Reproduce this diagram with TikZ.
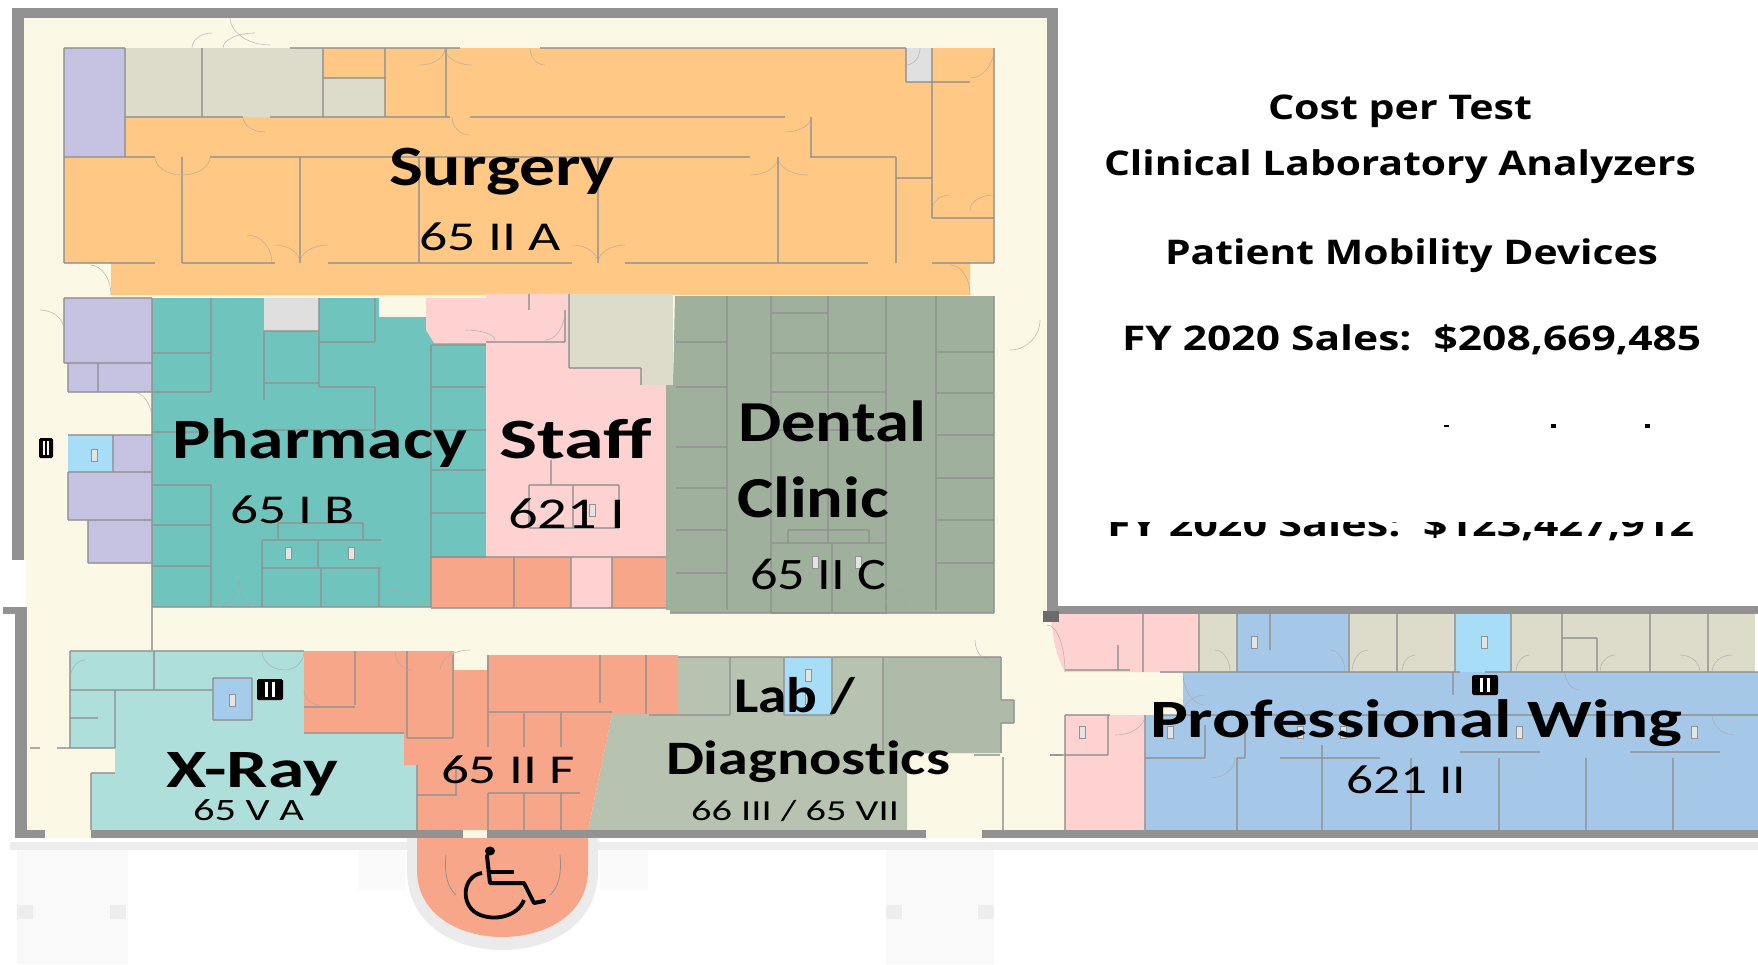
\documentclass[tikz,border=0pt]{standalone}
\usepackage{graphicx}
\usepackage{fontspec}
\setmainfont{Carlito}
\newfontfamily\headfont{Open Sans}
\definecolor{wallc}{HTML}{929292}
\definecolor{creamc}{HTML}{FBF8E6}
\definecolor{surgc}{HTML}{FFC985}
\definecolor{tealc}{HTML}{6FC5BE}
\definecolor{pinkc}{HTML}{FFD2D2}
\definecolor{dentc}{HTML}{9FB19D}
\definecolor{salmc}{HTML}{F7A68A}
\definecolor{xrayc}{HTML}{AFDFDA}
\definecolor{labc}{HTML}{B7C3B0}
\definecolor{labdc}{HTML}{AEBBA8}
\definecolor{bluec}{HTML}{A5C8E8}
\definecolor{skyc}{HTML}{A8DDF8}
\definecolor{beigec}{HTML}{DDDBC9}
\definecolor{purpc}{HTML}{C6C2E2}
\tikzset{
  thickwall/.style={fill=wallc,draw=none},
  partition/.style={draw=wallc,line width=1.3pt,opacity=.75},
  doorarc/.style={draw=black!35,line width=.6pt,opacity=.7},
  roomfill/.style={draw=none},
}
\newcommand{\lbl}[6]{% name, x1, x2, baseline, size, text
  \node[anchor=base west,inner sep=0pt,outer sep=0pt] (#1) at (#2,#4)
    {\resizebox{\dimexpr #3pt-#2pt\relax}{\height}{\fontsize{#5}{#5}\selectfont #6}};}
\newcommand{\door}[4]{\draw[doorarc] (#1,#2) .. controls (#1,{#2+0.55*(#4-#2)}) and ({#3-0.55*(#3-#1)},#4) .. (#3,#4);}
\newcommand{\lift}[4]{\fill[black,rounded corners=1.5pt] (#1,#2) rectangle (#3,#4);
  \fill[white] ({#1+0.3*(#3-#1)},{#2+3}) rectangle ({#1+0.42*(#3-#1)},{#4-3});
  \fill[white] ({#1+0.58*(#3-#1)},{#2+3}) rectangle ({#1+0.7*(#3-#1)},{#4-3});}
\newcommand{\cab}[2]{\draw[wallc,line width=.8pt,fill=wallc!25] ({#1-3},{#2-6}) rectangle ({#1+3},{#2+6});}
\begin{document}
\begin{tikzpicture}[x=1pt,y=-1pt]
\useasboundingbox (0,0) rectangle (1758,964);
\fill[white] (0,0) rectangle (1758,964);
% ground
\fill[black!2.5] (17,850) rectangle (128,964);
\fill[black!2.5] (886,850) rectangle (994,964);
\fill[black!2] (358,850) rectangle (405,890);
\fill[black!2] (600,850) rectangle (648,890);
\foreach \x in {17,110,886,978}{\fill[black!7] (\x,905) rectangle ({\x+16},919);}
\fill[black!7] (10,842) rectangle (1758,850);
% cream floor
\fill[creamc] (24,17) -- (1047,17) -- (1047,611) -- (1065,611) -- (1065,838) -- (26,838) -- (26,560) -- (24,560) -- cycle;
\fill[creamc] (1047,672) rectangle (1183,715);
% surgery
\fill[surgc] (64,157) -- (125,157) -- (125,117) -- (385,117) -- (385,78) -- (323,78) -- (323,48) -- (994,48) -- (994,263) -- (970,263) -- (970,295) -- (111,295) -- (111,263) -- (64,263) -- cycle;
\fill[purpc] (64,48) rectangle (125,157);
\fill[beigec] (125,48) rectangle (323,117);
\fill[beigec] (323,78) rectangle (385,117);
\fill[black!12] (906,48) rectangle (932,82);
% middle block
\fill[tealc] (152,298) rectangle (486,607);
\fill[purpc] (64,298) rectangle (152,363);
\fill[purpc] (68,363) rectangle (152,392);
\fill[purpc] (68,435) rectangle (152,520);
\fill[purpc] (88,520) rectangle (152,563);
\fill[skyc] (68,435) rectangle (113,472);
\fill[black!13] (264,298) rectangle (319,331);
\fill[creamc] (379,298) rectangle (426,317);
\fill[pinkc] (426,298) -- (486,298) -- (486,343) -- (434,343) -- (426,330) -- cycle;
\fill[pinkc] (486,294) rectangle (666,557);
\fill[beigec] (569,294) rectangle (673,368);
\fill[beigec] (641,368) rectangle (673,385);
\fill[salmc] (431,557) rectangle (666,608);
\fill[pinkc] (571,557) rectangle (612,608);
\fill[dentc] (675,296) -- (994,296) -- (994,613) -- (670,613) -- (670,610) -- (666,610) -- (666,385) -- (673,385) -- cycle;
% lower block
\fill[xrayc] (70,651) -- (304,651) -- (304,733) -- (404,733) -- (404,765) -- (417,765) -- (417,830) -- (91,830) -- (91,773) -- (115,773) -- (115,748) -- (70,748) -- cycle;
\fill[bluec!80!skyc] (213,678) rectangle (252,720);
\fill[labc] (678,657) -- (1001,657) -- (1001,753) -- (907,753) -- (907,830) -- (588,830) -- (612,714) -- (649,714) -- (678,714) -- cycle;
\fill[labdc] (884,657) -- (1001,657) -- (1001,700) -- (1014,700) -- (1014,723) -- (1001,723) -- (1001,753) -- (884,753) -- cycle;
\fill[skyc] (784,658) rectangle (832,715);
\fill[salmc] (304,651) -- (454,651) -- (454,670) -- (487,670) -- (487,655) -- (678,655) -- (678,714) -- (612,714) -- (588,830) -- (417,830) -- (417,765) -- (404,765) -- (404,733) -- (304,733) -- cycle;
% ramp
\fill[black!8] (407,838) -- (407,870) .. controls (407,925) and (455,950) .. (502,950) .. controls (550,950) and (598,925) .. (598,870) -- (598,838) -- cycle;
\fill[salmc] (417,838) -- (417,870) .. controls (417,915) and (460,937) .. (502,937) .. controls (545,937) and (588,915) .. (588,870) -- (588,838) -- cycle;
\draw[wallc,line width=.8pt] (446,855) .. controls (444,875) and (448,888) .. (456,895);
\draw[wallc,line width=.8pt] (560,855) .. controls (562,875) and (558,888) .. (550,895);
% wing
\fill[pinkc] (1051,614) -- (1199,614) -- (1199,672) -- (1065,672) .. controls (1058,660) and (1052,640) .. (1051,614) -- cycle;
\fill[beigec] (1199,614) rectangle (1237,672);
\fill[bluec] (1237,614) rectangle (1349,672);
\fill[beigec] (1349,614) rectangle (1455,672);
\fill[skyc] (1455,614) rectangle (1511,672);
\fill[beigec] (1511,614) rectangle (1755,672);
\fill[bluec] (1183,672) -- (1758,672) -- (1758,830) -- (1145,830) -- (1145,715) -- (1183,715) -- cycle;
\fill[pinkc] (1065,715) rectangle (1145,830);
% partitions (x1/y1/x2/y2)
\foreach \a/\b/\c/\d in {
 64/48/64/263, 994/48/994/263, 64/48/125/48, 290/48/460/48, 540/48/906/48, 125/48/125/157,
 125/117/243/117, 270/117/450/117, 470/117/785/117, 811/117/811/157, 64/157/155/157, 210/157/750/157, 810/157/896/157,
 896/157/896/263, 896/178/932/178, 932/48/932/218, 932/218/994/218, 906/48/906/82, 906/82/970/82,
 202/48/202/117, 323/48/323/117, 385/48/385/117, 323/78/385/78, 446/48/446/117,
 182/157/182/263, 300/157/300/263, 419/157/419/263, 598/157/598/263, 778/157/778/263,
 64/263/155/263, 182/263/275/263, 328/263/572/263, 625/263/868/263, 932/263/994/263,
 % purple
 64/298/152/298, 64/298/64/363, 64/363/152/363, 68/363/68/392, 98/363/98/392, 68/392/152/392,
 68/435/152/435, 68/472/152/472, 113/435/113/472, 68/472/68/520, 68/520/152/520, 88/520/88/563, 88/563/152/563, 152/298/152/650,
 % pharmacy
 152/353/211/353, 152/392/211/392, 152/432/211/432, 152/485/211/485, 152/525/211/525, 152/566/211/566, 152/607/431/607,
 211/298/211/392, 211/485/211/607, 264/331/264/400, 319/298/319/387, 319/342/375/342, 319/387/375/387, 375/298/375/342, 375/387/375/430,
 264/331/319/331, 264/383/319/383, 264/430/375/430,
 431/345/486/345, 431/387/486/387, 431/430/486/430, 431/470/486/470, 431/513/486/513, 431/345/431/607, 431/557/486/557,
 262/540/381/540, 262/568/381/568, 278/523/363/523, 278/523/278/540, 363/523/363/540, 318/540/318/568, 262/540/262/607, 321/568/321/607, 379/568/379/607,
 % staff
 486/342/565/342, 565/342/565/310, 529/294/529/310, 569/294/569/368, 569/368/641/368, 641/368/641/385,
 551/460/551/485, 529/485/619/485, 529/485/529/528, 619/485/619/528, 573/485/573/528, 529/528/619/528,
 % salmon
 431/557/666/557, 431/608/666/608, 514/557/514/608, 571/557/571/608, 612/557/612/608,
 % dental
 727/296/727/610, 771/296/771/543, 828/296/828/543, 886/296/886/613, 936/296/936/610, 994/296/994/613,
 676/342/727/342, 676/387/727/387, 676/447/727/447, 676/488/727/488, 676/530/727/530, 676/573/727/573,
 936/352/994/352, 936/393/994/393, 936/435/994/435, 936/478/994/478, 936/520/994/520, 936/563/994/563,
 771/313/828/313, 771/353/886/353, 771/392/886/392, 771/430/886/430,
 788/530/869/530, 788/530/788/543, 869/530/869/543, 771/543/887/543, 771/543/771/613, 832/543/832/613, 771/613/887/613, 670/613/994/613,
 % x-ray
 70/651/304/651, 70/651/70/748, 154/651/154/690, 70/690/213/690, 115/690/115/748, 70/718/98/718, 70/748/115/748, 91/773/115/773, 91/773/91/830,
 213/678/213/720, 213/678/252/678, 252/678/252/720, 213/720/252/720,
 % salmon lower
 355/651/355/705, 407/651/407/738, 453/655/453/738, 304/707/355/707, 304/733/404/733, 407/738/453/738, 488/655/488/747, 488/712/612/712,
 524/713/524/747, 561/713/561/747, 488/793/580/793, 488/793/488/830, 524/793/524/830, 561/793/561/830, 600/655/600/703, 646/655/646/714,
 417/795/457/795, 456/765/456/795, 417/765/417/830,
 % lab
 730/657/730/715, 784/658/784/715, 832/658/832/715, 883/657/883/750, 649/715/730/715, 784/715/832/715, 678/657/1001/657, 1001/657/1001/700, 1001/700/1014/700, 1014/700/1014/723, 1001/723/1014/723, 1001/723/1001/753, 974/755/1000/755, 1050/755/1062/755, 1003/757/1003/830,
 30/748/40/748, 57/748/70/748,
 % wing top
 1143/614/1143/672, 1199/614/1199/672, 1237/614/1237/672, 1270/614/1270/650, 1349/614/1349/672, 1397/614/1397/672, 1455/614/1455/672, 1511/614/1511/672, 1562/614/1562/672, 1650/614/1650/672, 1708/614/1708/672,
 1562/638/1597/638, 1597/638/1597/672, 1065/670/1130/670, 1118/645/1118/670, 1160/672/1460/672, 1485/672/1758/672,
 % wing bottom
 1065/715/1110/715, 1065/715/1065/830, 1145/715/1145/830, 1050/755/1108/755, 1108/755/1108/715, 1160/715/1758/715,
 1237/758/1237/830, 1322/758/1322/830, 1411/758/1411/830, 1499/758/1499/830, 1586/758/1586/830, 1673/758/1673/830,
 1145/758/1205/758, 1237/758/1245/758, 1205/758/1205/725, 1245/758/1245/725, 1280/758/1380/758, 1322/758/1322/745, 1460/752/1540/752, 1630/752/1720/752,
 1453/672/1453/695
 }{\draw[partition] (\a,\b) -- (\c,\d);}
% door swings
\door{155}{157}{182}{175} \door{210}{157}{182}{175}
\door{272}{263}{247}{235} \door{300}{263}{275}{245} \door{300}{263}{328}{245}
\door{598}{263}{572}{245} \door{598}{263}{625}{245} \door{778}{157}{750}{175} \door{778}{157}{808}{175}
\door{243}{117}{265}{132} \door{452}{117}{470}{135} \door{811}{117}{785}{132}
\door{445}{48}{420}{65} \door{445}{48}{472}{65} \door{530}{48}{545}{65}
\door{192}{48}{212}{33} \door{223}{48}{255}{33} \door{230}{17}{270}{45}
\door{920}{48}{906}{65} \door{994}{48}{970}{78} \door{932}{210}{950}{195} \door{970}{210}{994}{195}
\door{111}{295}{90}{265} \door{970}{295}{950}{265}
\door{64}{330}{40}{310} \door{152}{420}{133}{392} \door{1040}{320}{1010}{350}
\door{495}{340}{465}{330} \door{565}{310}{545}{340} \door{885}{607}{905}{590} \door{905}{607}{925}{590}
\door{239}{580}{215}{607} \door{239}{580}{255}{607} \door{425}{607}{385}{590}
\door{70}{680}{85}{660} \door{262}{651}{285}{670} \door{304}{651}{285}{670}
\door{304}{690}{320}{705} \door{395}{651}{412}{670} \door{440}{670}{470}{650}
\door{975}{640}{990}{660} \door{1065}{672}{1047}{625}
\door{1183}{672}{1205}{705} \door{1183}{715}{1205}{695} \door{1145}{715}{1115}{735}
\door{1230}{672}{1215}{650} \door{1345}{672}{1330}{650} \door{1352}{672}{1368}{650}
\door{1402}{672}{1415}{655} \door{1516}{672}{1530}{655} \door{1600}{672}{1615}{655}
\door{1700}{672}{1680}{655} \door{1712}{672}{1732}{655}
\door{1565}{672}{1580}{690}
\door{1235}{758}{1210}{778} \door{1712}{715}{1735}{735}
% small elevator cabinets
\foreach \x/\y in {94/455, 288/553, 351/553, 232/700, 808/675, 808/698, 1254/642, 1484/642, 1082/732, 1170/732, 1300/732, 1343/732, 1519/732, 1694/732, 858/562, 815/562, 592/510}{\cab{\x}{\y}}
% thick walls
\fill[thickwall] (12,8) rectangle (1058,17.5);
\fill[thickwall] (12,8) rectangle (24,560);
\fill[thickwall] (1047,8) rectangle (1058,615);
\fill[thickwall] (3,607) rectangle (27,614);
\fill[thickwall] (15,607) rectangle (27,838);
\fill[thickwall] (15,830) rectangle (45,838);
\fill[thickwall] (91,830) rectangle (463,838);
\fill[thickwall] (487,830) rectangle (926,838);
\fill[thickwall] (982,830) rectangle (1758,838);
\fill[thickwall] (1058,606) rectangle (1758,614);
\fill[black!58] (1043,611) rectangle (1059,622);
% lifts
\lift{39}{438}{53}{458}
\lift{257}{679}{283}{700}
\lift{1472}{675}{1498}{695}
% wheelchair
\fill[black] (490,851) ellipse [x radius=5, y radius=4.5];
\draw[black,line width=4pt,line join=round,line cap=round] (487,856) -- (490,883) -- (524,883) -- (534,903) -- (544,901);
\draw[black,line width=3.6pt] (490,872) -- (514,872);
\draw[black,line width=3.8pt] (482,873) .. controls (462,876) and (460,905) .. (478,914) .. controls (495,922) and (518,916) .. (524,900);
% labels
\lbl{surgery}{389}{615}{185}{57}{\bfseries Surgery}
\lbl{surgnum}{419}{561}{250}{41}{65 II A}
\lbl{pharm}{172}{467}{458}{57}{\bfseries Pharmacy}
\lbl{pharmnum}{230}{355}{523}{41}{65 I B}
\lbl{staff}{499}{652}{458}{57}{\bfseries Staff}
\lbl{staffnum}{508}{625}{528}{44}{621 I}
\lbl{dental}{738}{926}{441}{58}{\bfseries Dental}
\lbl{clinic}{737}{889}{517}{58}{\bfseries Clinic}
\lbl{dentnum}{750}{886}{589}{45}{65 II C}
\lbl{xray}{166}{338}{787}{54}{\raisebox{0pt}[\height][0pt]{\bfseries X-Ray}}
\lbl{xraynum}{193}{304}{820}{31}{65 V A}
\lbl{orangenum}{441}{575}{783}{41}{65 II F}
\lbl{lab}{734}{855}{712}{50}{\bfseries Lab /}
\lbl{diag}{666}{950}{774}{48}{\bfseries Diagnost\kern0pt ics}
\lbl{labnum}{691}{899}{820}{29}{66 III / 65 VII}
\lbl{prof}{1150}{1682}{737}{54}{\bfseries Professional Wing}
\lbl{profnum}{1346}{1466}{793}{41}{621 II}
% right heading
\lbl{h1}{1268}{1532}{119}{34}{\headfont\bfseries Cost per Test}
\lbl{h2}{1104}{1696}{175}{34}{\headfont\bfseries Clinical Laboratory Analyzers}
\lbl{h3}{1165}{1658}{264}{34}{\headfont\bfseries Patient Mobility Devices}
\lbl{h4}{1122}{1701}{350}{34}{\headfont\bfseries FY 2020 Sales:\ \ \$208,669,485}
\begin{scope}
\clip (1090,522) rectangle (1720,560);
\lbl{h5}{1107}{1694}{536}{34}{\headfont\bfseries FY 2020 Sales:\ \ \$123,427,912}
\end{scope}
% clipped fragments of a covered line
\fill[black] (1444,425) rectangle (1449,427);
\fill[black] (1551,424) rectangle (1556,428);
\fill[black] (1645,424) rectangle (1650,428);
\end{tikzpicture}
\end{document}
